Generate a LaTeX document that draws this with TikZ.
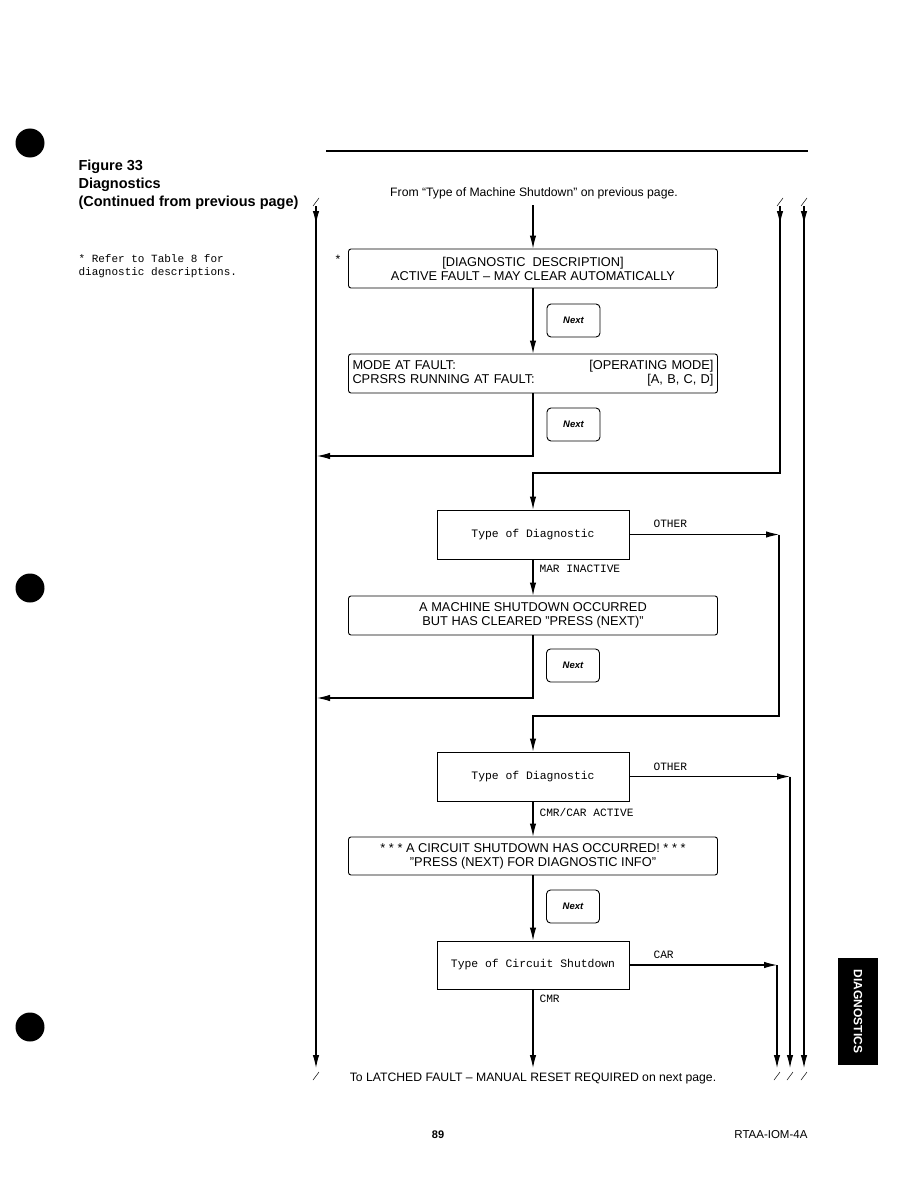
\documentclass[tikz,border=0pt]{standalone}
\usepackage{fontspec}
\setmainfont{Liberation Sans}
\setmonofont{Liberation Mono}
\usetikzlibrary{arrows.meta}
\begin{document}
\begin{tikzpicture}[x=1pt,y=-1pt, line width=1.1pt,
  wide/.style={draw, line width=0.9pt, rounded corners=2.5pt, minimum width=369pt, minimum height=39pt, inner sep=0pt, font=\fontsize{12.8}{14}\selectfont, align=center},
  dec/.style={draw, line width=0.9pt, minimum width=192pt, minimum height=49pt, inner sep=0pt, font=\ttfamily\fontsize{11.4}{13}\selectfont},
  nextbtn/.style={draw, line width=0.9pt, rounded corners=4pt, minimum width=53pt, minimum height=33pt, inner sep=0pt, font=\bfseries\itshape\fontsize{9.5}{11}\selectfont},
  arr/.style={-{Latex[length=13pt,width=6.5pt]}},
  lbl/.style={font=\ttfamily\fontsize{11.2}{12}\selectfont, anchor=west, inner sep=0pt},
  tick/.style={line width=0.5pt},
  hole/.style={fill=black, circle, minimum size=29pt, inner sep=0pt},
  plain/.style={font=\fontsize{12.2}{14}\selectfont, inner sep=0pt}
]
\useasboundingbox (0,0) rectangle (918,1188);
\fill[white] (0,0) rectangle (918,1188);

% punch holes
\node[hole] (h1) at (30,143) {};
\node[hole] (h2) at (30,588) {};
\node[hole] (h3) at (30,1027) {};

% header
\draw[line width=2pt] (326,151) -- (808,151);
\node[anchor=west, inner sep=0pt, font=\bfseries\fontsize{14.5}{18}\selectfont, align=left] (title) at (78,185) {Figure 33\\Diagnostics\\(Continued from previous page)};
\node[anchor=north west, inner sep=0pt, font=\ttfamily\fontsize{11}{13}\selectfont, align=left] (note) at (78,254) {* Refer to Table 8 for\\diagnostic descriptions.};

\node[plain] (from) at (534,193) {From “Type of Machine Shutdown” on previous page.};

% boxes
\node[wide] (b1) at (533,268.5) {[DIAGNOSTIC\ \ DESCRIPTION]\\ACTIVE FAULT – MAY CLEAR AUTOMATICALLY};
\node[plain] (star) at (338,259) {*};
\node[nextbtn] (n1) at (573.5,320.5) {Next};
\node[wide, align=left, text width=361pt, inner xsep=4pt] (b2) at (533,373.5) {MODE AT FAULT:\hfill[OPERATING MODE]\\CPRSRS RUNNING AT FAULT:\hfill[A, B, C, D]};
\node[nextbtn] (n2) at (573.5,424.5) {Next};
\node[dec] (b3) at (533,534.5) {Type of Diagnostic};
\node[wide] (b4) at (533,615.5) {A MACHINE SHUTDOWN OCCURRED\\BUT HAS CLEARED "PRESS (NEXT)"};
\node[nextbtn] (n3) at (573,665.5) {Next};
\node[dec] (b5) at (533,776.5) {Type of Diagnostic};
\node[wide, minimum height=38pt] (b6) at (533,856) {* * * A CIRCUIT SHUTDOWN HAS OCCURRED! * * *\\"PRESS (NEXT) FOR DIAGNOSTIC INFO"};
\node[nextbtn] (n4) at (573,906.5) {Next};
\node[dec, minimum height=48pt] (b7) at (533,965) {Type of Circuit Shutdown};

\node[plain] (to) at (533,1078) {To LATCHED FAULT – MANUAL RESET REQUIRED on next page.};

% labels
\node[lbl] (lo1) at (653,524) {OTHER};
\node[lbl] (lmar) at (539,569) {MAR INACTIVE};
\node[lbl] (lo2) at (653,767) {OTHER};
\node[lbl] (lcmrcar) at (539,812) {CMR/CAR ACTIVE};
\node[lbl] (lcar) at (653,955) {CAR};
\node[lbl] (lcmr) at (539,999) {CMR};

% coordinates
\coordinate (Ltop) at (316,206);
\coordinate (Lbot) at (316,1068);
\coordinate (R1top) at (780,206);
\coordinate (R1turn) at (780,473);
\coordinate (R2top) at (804,206);
\coordinate (R2bot) at (804,1068);
\coordinate (ret1) at (533,456);
\coordinate (ret1e) at (317,456);
\coordinate (ret2) at (533,698);
\coordinate (ret2e) at (317,698);
\coordinate (o1) at (779,534.5);
\coordinate (o1turn) at (779,716);
\coordinate (o2) at (790,776.5);
\coordinate (o2bot) at (790,1068);
\coordinate (c1) at (777,965);
\coordinate (c1bot) at (777,1068);
\coordinate (toend) at (533,1068);

% main flow
\draw[arr] (from.south -| b1.north) ++(0,6) -- (b1.north);
\draw[arr] (b1.south) -- (b2.north);
\draw[arr] (b2.south) -- (ret1) -- (ret1e);
\draw[arr] (b3.south) -- (b4.north);
\draw[arr] (b4.south) -- (ret2) -- (ret2e);
\draw[arr] (b5.south) -- (b6.north);
\draw[arr] (b6.south) -- (b7.north);
\draw[arr] (b7.south) -- (toend);

% left return line
\draw[arr] (Ltop) -- ++(0,18);
\draw[arr] (Ltop) -- (Lbot);

% right lines
\draw[arr] (R1top) -- ++(0,18);
\draw[arr] (R1top) -- (R1turn) -| (b3.north);
\draw[arr] (R2top) -- ++(0,18);
\draw[arr] (R2top) -- (R2bot);

\draw[arr] (b3.east) -- (o1);
\draw[arr] (o1) -- (o1turn) -| (b5.north);
\draw[arr] (b5.east) -- (o2);
\draw[arr] (o2) -- (o2bot);
\draw[arr] (b7.east) -- (c1);
\draw[arr] (c1) -- (c1bot);

% off-page ticks
\foreach \x in {316,780,804} \draw[tick] (\x-3,206) -- (\x+3,198);
\foreach \x in {316,777,790,804} \draw[tick] (\x-3,1080) -- (\x+3,1072);

% footer
\node[inner sep=0pt, font=\bfseries\fontsize{11}{12}\selectfont] (pg) at (438,1135) {89};
\node[anchor=east, inner sep=0pt, font=\fontsize{11.5}{12}\selectfont] (doc) at (808,1135) {RTAA-IOM-4A};

% tab
\node[fill=black, minimum width=40pt, minimum height=107pt, inner sep=0pt] (tab) at (858,1011.5) {};
\node[rotate=-90, text=white, inner sep=0pt, font=\bfseries\fontsize{12}{14}\selectfont] (tabtxt) at (tab.center) {DIAGNOSTICS};
\end{tikzpicture}
\end{document}
